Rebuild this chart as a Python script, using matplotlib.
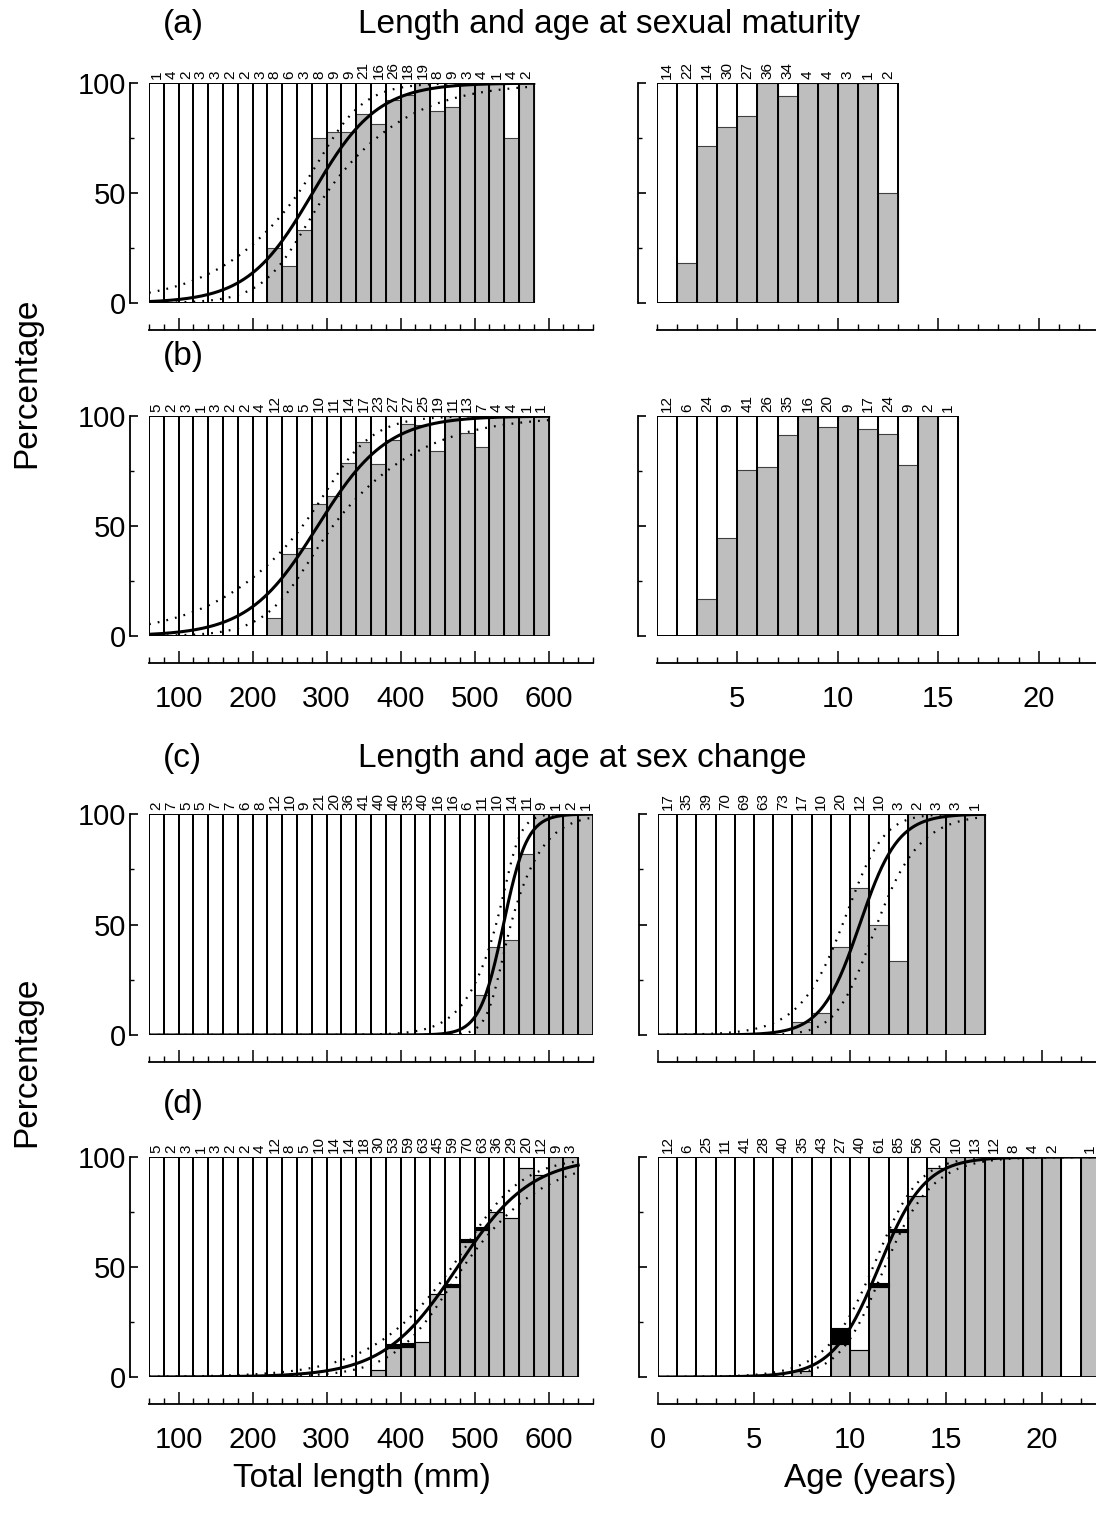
import numpy as np
import matplotlib.pyplot as plt

plt.rcParams['font.family'] = ['Liberation Sans', 'DejaVu Sans']

# ---- data (percent of each class, sample sizes) ----
# (a) sexual maturity vs length (20 mm classes from 60 mm) and age (from 1 yr)
a_len_n = [1, 4, 2, 3, 3, 2, 2, 3, 8, 6, 3, 8, 9, 9, 21, 16, 26, 18, 19, 8, 9, 3, 4, 1, 4, 2]
a_len_pct = [0, 0, 0, 0, 0, 0, 0, 0, 25, 16.7, 33.3, 75, 77.8, 77.8, 85.7, 81.3, 92.3, 94.4,
             100, 87.5, 88.9, 100, 100, 100, 75, 100]
a_age_n = [14, 22, 14, 30, 27, 36, 34, 4, 4, 3, 1, 2]
a_age_pct = [0, 18.2, 71.4, 80, 85.2, 100, 94.1, 100, 100, 100, 100, 50]

# (b)
b_len_n = [5, 2, 3, 1, 3, 2, 2, 4, 12, 8, 5, 10, 11, 14, 17, 23, 27, 27, 25, 19, 11, 13, 7, 4, 4, 1, 1]
b_len_pct = [0, 0, 0, 0, 0, 0, 0, 0, 8.3, 37.5, 40, 60, 63.6, 78.6, 88.2, 78.3, 88.9, 96.3,
             96, 84.2, 100, 92.3, 85.7, 100, 100, 100, 100]
b_age_n = [12, 6, 24, 9, 41, 26, 35, 16, 20, 9, 17, 24, 9, 2, 1]
b_age_pct = [0, 0, 16.7, 44.4, 75.6, 76.9, 91.4, 100, 95, 100, 94.1, 91.7, 77.8, 100, 0]

# (c) sex change vs length (from 60 mm) and age (from 0 yr)
c_len_n = [2, 7, 5, 5, 7, 7, 6, 8, 12, 10, 9, 21, 20, 36, 41, 40, 40, 35, 40, 16, 16, 6,
           11, 10, 14, 11, 9, 1, 2, 1]
c_len_pct = [0] * 22 + [18.2, 40, 42.9, 81.8, 100, 100, 100, 100]
c_age_n = [17, 35, 39, 70, 69, 63, 73, 17, 10, 20, 12, 10, 3, 2, 3, 3, 1]
c_age_pct = [0, 0, 0, 0, 0, 0, 0, 5.9, 10, 40, 66.7, 50, 33.3, 100, 100, 100, 100]

# (d) grey = changed, black = transitional
d_len_n = [5, 2, 3, 1, 3, 2, 2, 4, 12, 8, 5, 10, 14, 14, 18, 30, 53, 59, 63, 45, 59, 70, 63,
           36, 29, 20, 12, 9, 3]
d_len_pct = [0] * 15 + [3.3, 13.2, 13.6, 15.9, 37.8, 40.7, 61.4, 66.7, 75, 72.4, 95, 91.7, 100, 100]
d_len_blk = [0] * 16 + [1.9, 1.7, 0, 0, 1.7, 1.4, 1.6] + [0] * 6
d_age_n = [12, 6, 25, 11, 41, 28, 40, 35, 43, 27, 40, 61, 85, 56, 20, 10, 13, 12, 8, 4, 2, 0, 1]
d_age_pct = [0] * 7 + [2.9, 0, 14.8, 12.5, 41.0, 65.9, 82.1, 95, 100, 100, 100, 100, 100, 100, 0, 100]
d_age_blk = [0] * 9 + [7.4, 0, 1.6, 1.2] + [0] * 10

# logistic fits: (x50, scale, ci_a, ci_b)
fit_a_len = (281, 44, 0.40, 0.0089)
fit_b_len = (288, 47, 0.40, 0.0085)
fit_c_len = (539, 16, 0.56, 0.028)
fit_c_age = (10.5, 1.0, 0.85, 0.31)
fit_d_len = (477, 50, 0.15, 0.004)
fit_d_age = (11.5, 1.2, 0.25, 0.12)

W, H = 1096, 1514
fig = plt.figure(figsize=(W / 100, H / 100), dpi=100)


def px_axes(x0, x1, ytop, ybot):
    return fig.add_axes([x0 / W, 1 - ybot / H, (x1 - x0) / W, (ybot - ytop) / H])


def panel(ax, start, step, n, pct, blk=None, fit=None, xlim=None, majors=(), minors=(),
          labels=False, ylabels=False):
    x = start + step * np.arange(len(n)) + step / 2
    ax.bar(x, 100, width=step, color='white', edgecolor='black', lw=1.3, zorder=1)
    ax.bar(x, pct, width=step, color='#bebebe', edgecolor='#404040', lw=0.8, zorder=2)
    if blk is not None:
        ax.bar(x, blk, bottom=pct, width=step, color='black', edgecolor='black', lw=0.8, zorder=2)
    ax.bar(x, 100, width=step, fill=False, edgecolor='black', lw=1.3, zorder=3)
    for xi, ni in zip(x, n):
        if ni > 0:
            ax.annotate(str(ni), (xi, 100), xytext=(0, 3), textcoords='offset points',
                        rotation=90, ha='center', va='bottom', fontsize=11)
    if fit is not None:
        x50, s, ca, cb = fit
        xx = np.linspace(start, start + step * len(n), 300)
        eta = (xx - x50) / s
        se = np.sqrt(ca ** 2 + (cb * (xx - x50)) ** 2)
        ax.plot(xx, 100 / (1 + np.exp(-eta)), color='black', lw=2.2, zorder=5)
        for sg in (-1, 1):
            ax.plot(xx, 100 / (1 + np.exp(-(eta + sg * se))), color='black', lw=1.6,
                    ls=(0, (0.8, 3.2)), zorder=5)
    ax.set_xlim(*xlim)
    ax.set_ylim(0, 100)
    for sp in ('top', 'right'):
        ax.spines[sp].set_visible(False)
    ax.spines['left'].set_position(('outward', 13.5))
    ax.spines['left'].set_bounds(0, 100)
    ax.spines['bottom'].set_position(('outward', 19.5))
    ax.spines['bottom'].set_bounds(*xlim)
    for sp in ('left', 'bottom'):
        ax.spines[sp].set_linewidth(1.3)
    ax.set_yticks([0, 50, 100])
    ax.set_yticks([25, 75], minor=True)
    ax.set_xticks(majors)
    ax.set_xticks(minors, minor=True)
    ax.tick_params(axis='y', which='major', direction='in', length=6, width=1.2, pad=3,
                   labelsize=21, labelleft=ylabels)
    ax.tick_params(axis='y', which='minor', direction='in', length=3, width=1.0)
    ax.tick_params(axis='x', which='major', direction='in', length=8.5, width=1.1, pad=16,
                   labelsize=21, labelbottom=labels)
    ax.tick_params(axis='x', which='minor', direction='in', length=4, width=1.0)
    ax.set_facecolor('none')


len_major = [100, 200, 300, 400, 500, 600]
len_minor = list(range(60, 661, 20))
age_major = [0, 5, 10, 15, 20]
age_minor = list(range(0, 25))

rows = [(83, 303), (416, 636), (814, 1035), (1157, 1377)]

ax = px_axes(149, 593, *rows[0])
panel(ax, 60, 20, a_len_n, a_len_pct, fit=fit_a_len, xlim=(60, 660), majors=len_major,
      minors=len_minor, ylabels=True)
ax = px_axes(657, 1119, *rows[0])
panel(ax, 1, 1, a_age_n, a_age_pct, xlim=(1, 24), majors=age_major[1:], minors=age_minor[1:])

ax = px_axes(149, 593, *rows[1])
panel(ax, 60, 20, b_len_n, b_len_pct, fit=fit_b_len, xlim=(60, 660), majors=len_major,
      minors=len_minor, labels=True, ylabels=True)
ax = px_axes(657, 1119, *rows[1])
panel(ax, 1, 1, b_age_n, b_age_pct, xlim=(1, 24), majors=age_major[1:], minors=age_minor[1:],
      labels=True)

ax = px_axes(149, 593, *rows[2])
panel(ax, 60, 20, c_len_n, c_len_pct, fit=fit_c_len, xlim=(60, 660), majors=len_major,
      minors=len_minor, ylabels=True)
ax = px_axes(658, 1119, *rows[2])
panel(ax, 0, 1, c_age_n, c_age_pct, fit=fit_c_age, xlim=(0, 24), majors=age_major,
      minors=age_minor)

ax = px_axes(149, 593, *rows[3])
panel(ax, 60, 20, d_len_n, d_len_pct, blk=d_len_blk, fit=fit_d_len, xlim=(60, 660),
      majors=len_major, minors=len_minor, labels=True, ylabels=True)
ax = px_axes(658, 1119, *rows[3])
panel(ax, 0, 1, d_age_n, d_age_pct, blk=d_age_blk, fit=fit_d_age, xlim=(0, 24),
      majors=age_major, minors=age_minor, labels=True)

fs = 24
fig.text(163 / W, 1 - 25 / H, '(a)', fontsize=fs, ha='left', va='center')
fig.text(358 / W, 1 - 25 / H, 'Length and age at sexual maturity', fontsize=fs, ha='left', va='center')
fig.text(163 / W, 1 - 356 / H, '(b)', fontsize=fs, ha='left', va='center')
fig.text(163 / W, 1 - 758 / H, '(c)', fontsize=fs, ha='left', va='center')
fig.text(358 / W, 1 - 758 / H, 'Length and age at sex change', fontsize=fs, ha='left', va='center')
fig.text(163 / W, 1 - 1105 / H, '(d)', fontsize=fs, ha='left', va='center')
fig.text(27 / W, 1 - 383 / H, 'Percentage', fontsize=fs, rotation=90, ha='center', va='center')
fig.text(27 / W, 1 - 1062 / H, 'Percentage', fontsize=fs, rotation=90, ha='center', va='center')
fig.text(362 / W, 1 - 1478 / H, 'Total length (mm)', fontsize=fs, ha='center', va='center')
fig.text(870 / W, 1 - 1478 / H, 'Age (years)', fontsize=fs, ha='center', va='center')

fig.savefig('out.png', dpi=100)
